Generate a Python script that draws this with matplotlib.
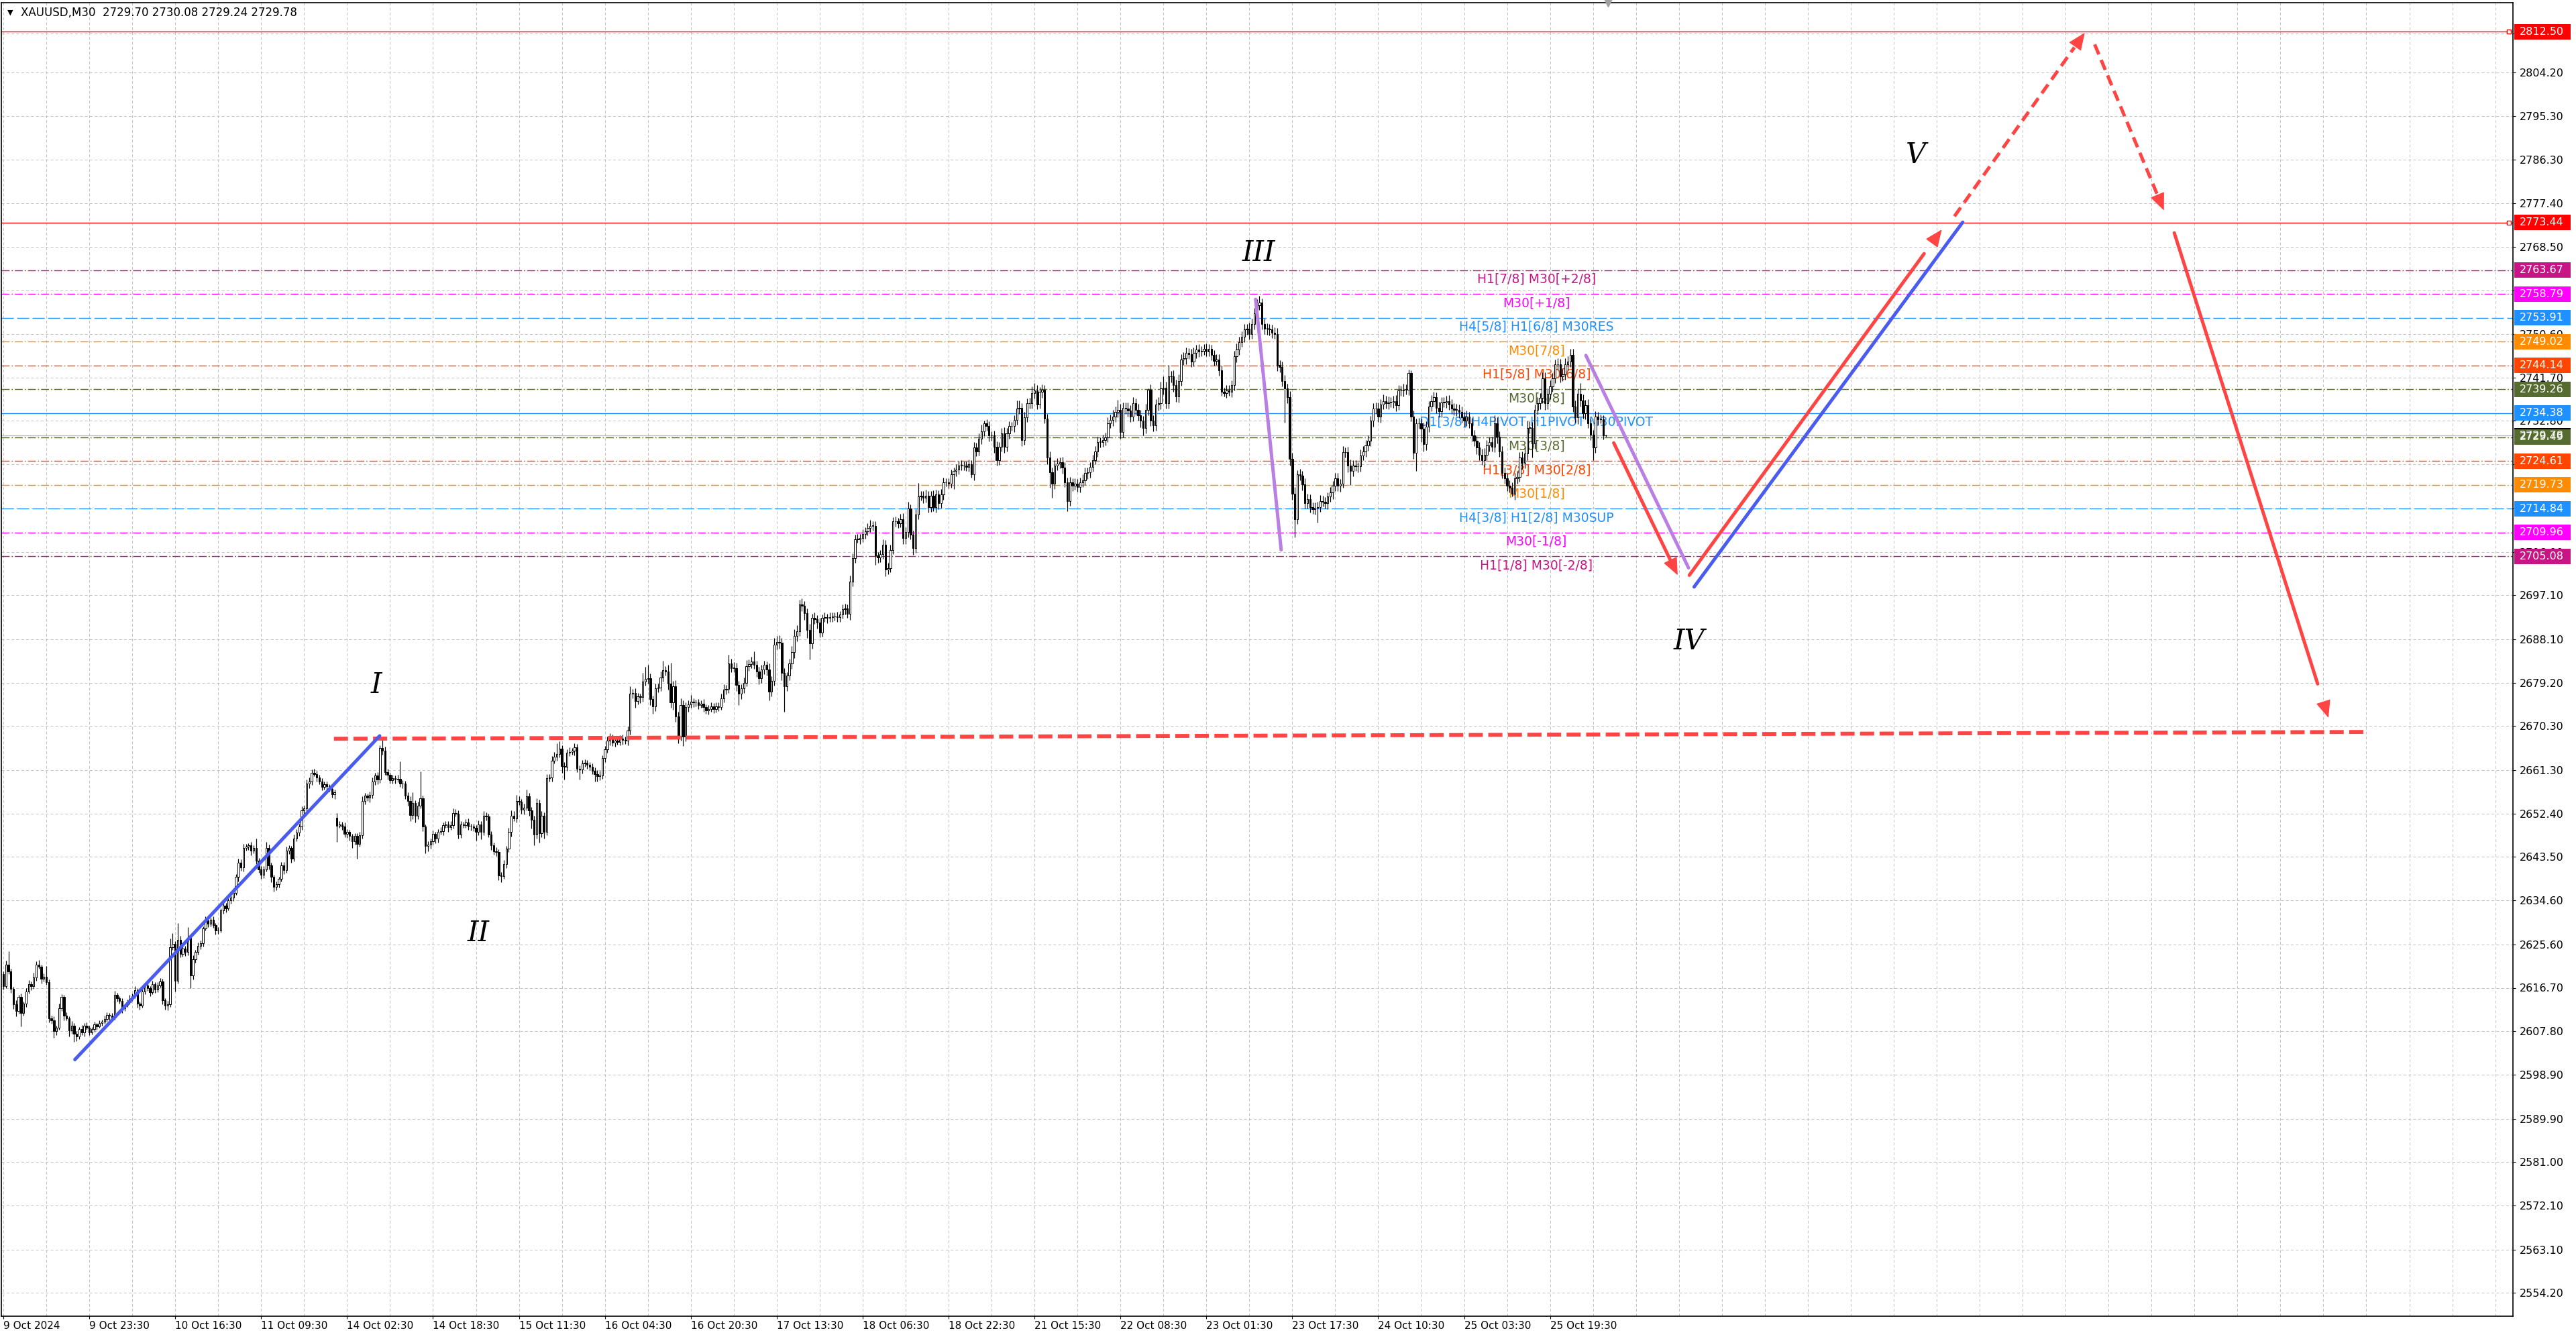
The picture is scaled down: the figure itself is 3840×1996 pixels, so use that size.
import matplotlib
matplotlib.use("Agg")
import matplotlib.pyplot as plt
import matplotlib.transforms as mtransforms
from matplotlib.collections import LineCollection
from matplotlib.patches import Rectangle
from matplotlib.ticker import MultipleLocator, FixedLocator
from matplotlib import font_manager as fm
import numpy as np

# ---------------- data ----------------
header = "XAUUSD,M30  2729.70 2730.08 2729.24 2729.78"

first_open = 2619.5
gap_opens = {132: 2651.5}

closes = [
 2617.0, 2621.5, 2620.0, 2616.5, 2613.3, 2612.0, 2614.8, 2611.5, 2613.5, 2616.0, 2617.5, 2617.0, 2618.8, 2621.5, 2621.0, 2618.5, 2619.0,
 2617.8, 2610.5, 2610.0, 2607.8, 2608.5, 2612.5, 2614.8, 2611.0, 2610.5, 2608.0, 2609.0, 2607.3, 2606.8, 2608.3, 2607.5, 2609.0, 2608.5,
 2607.6, 2608.2, 2609.2, 2608.8, 2609.5, 2609.8, 2610.3, 2611.2, 2611.0, 2610.6, 2615.2, 2614.6, 2614.0, 2612.5, 2613.2, 2613.8, 2614.5,
 2615.0, 2616.2, 2613.5, 2613.0, 2616.0, 2617.2, 2616.6, 2615.8, 2617.4, 2616.3, 2617.2, 2618.0, 2614.2, 2613.0, 2613.4, 2625.0, 2625.7,
 2618.2, 2626.5, 2623.6, 2624.8, 2624.0, 2627.0, 2619.2, 2622.5, 2624.0, 2625.3, 2625.8, 2628.8, 2630.5, 2629.8, 2630.6, 2629.6, 2628.4,
 2628.5, 2632.5, 2633.5, 2633.0, 2634.6, 2635.2, 2636.2, 2639.4, 2642.3, 2641.3, 2645.3, 2645.6, 2645.9, 2644.8, 2645.3, 2642.8, 2641.0,
 2639.8, 2641.0, 2645.4, 2641.8, 2639.5, 2637.4, 2637.9, 2639.0, 2641.8, 2640.8, 2644.8, 2645.3, 2643.2, 2647.2, 2648.5, 2649.7, 2653.1,
 2653.4, 2658.5, 2659.0, 2660.7, 2660.5, 2659.8, 2659.0, 2657.8, 2658.4, 2658.0, 2657.5, 2656.4, 2656.8, 2649.9, 2650.2, 2649.8, 2648.2,
 2648.6, 2647.8, 2646.7, 2647.8, 2646.2, 2648.0, 2655.0, 2656.0, 2655.6, 2656.2, 2659.0, 2660.2, 2659.4, 2665.8, 2665.2, 2660.9, 2660.3,
 2659.2, 2659.6, 2659.3, 2659.5, 2658.5, 2658.6, 2656.0, 2655.0, 2652.1, 2654.5, 2652.0, 2654.0, 2655.5, 2649.7, 2645.8, 2646.0, 2646.7,
 2648.2, 2647.2, 2648.6, 2648.8, 2650.0, 2650.2, 2649.6, 2650.0, 2652.5, 2652.4, 2648.1, 2650.2, 2650.0, 2650.6, 2649.8, 2649.7, 2649.4,
 2648.6, 2650.2, 2648.6, 2652.0, 2651.8, 2648.1, 2645.9, 2644.7, 2644.5, 2639.7, 2639.6, 2642.0, 2645.2, 2648.6, 2652.0, 2651.4, 2655.0,
 2654.8, 2653.2, 2653.6, 2655.9, 2653.1, 2651.1, 2648.1, 2654.5, 2648.4, 2652.0, 2648.6, 2659.6, 2659.8, 2663.2, 2664.0, 2664.6, 2665.7,
 2662.1, 2662.0, 2664.8, 2665.0, 2665.2, 2666.0, 2661.6, 2661.4, 2662.6, 2662.8, 2662.4, 2662.0, 2661.2, 2660.5, 2660.0, 2660.2, 2663.7,
 2665.5, 2667.3, 2668.0, 2666.9, 2667.3, 2667.1, 2667.8, 2667.4, 2667.3, 2669.4, 2676.9, 2677.1, 2675.5, 2676.4, 2676.2, 2679.4, 2679.9,
 2680.1, 2675.8, 2674.4, 2678.0, 2678.2, 2680.3, 2681.7, 2681.5, 2679.0, 2675.1, 2678.5, 2672.3, 2668.2, 2674.6, 2668.2, 2674.2, 2674.8,
 2675.3, 2675.1, 2675.1, 2674.6, 2674.9, 2674.2, 2673.5, 2673.8, 2674.4, 2673.8, 2674.4, 2674.2, 2676.0, 2677.8, 2677.9, 2683.1, 2682.2,
 2682.2, 2678.7, 2676.9, 2678.0, 2679.2, 2682.6, 2683.0, 2683.5, 2682.8, 2681.5, 2680.1, 2681.9, 2682.8, 2681.9, 2677.4, 2679.5, 2687.0,
 2687.5, 2687.4, 2681.2, 2678.5, 2680.6, 2683.1, 2685.5, 2688.8, 2689.7, 2695.2, 2695.0, 2693.4, 2690.0, 2687.2, 2692.4, 2692.2, 2691.5,
 2689.5, 2692.4, 2692.6, 2692.4, 2692.6, 2692.7, 2692.8, 2692.6, 2693.1, 2694.2, 2694.4, 2693.3, 2699.9, 2704.7, 2708.6, 2708.6, 2708.8,
 2709.7, 2710.2, 2710.9, 2711.3, 2711.3, 2705.2, 2704.9, 2705.5, 2707.5, 2702.4, 2702.7, 2706.3, 2712.2, 2712.2, 2711.8, 2712.7, 2708.8,
 2710.0, 2714.8, 2709.5, 2706.8, 2713.6, 2717.3, 2717.5, 2717.0, 2717.5, 2715.2, 2717.5, 2715.2, 2717.7, 2715.9, 2717.7, 2720.2, 2720.2,
 2720.0, 2721.8, 2722.5, 2722.8, 2723.7, 2723.7, 2723.6, 2723.4, 2723.9, 2721.8, 2727.3, 2726.6, 2729.1, 2730.7, 2732.3, 2731.7, 2729.8,
 2729.8, 2727.5, 2724.8, 2727.5, 2730.3, 2727.5, 2730.3, 2731.7, 2731.7, 2733.0, 2735.3, 2735.5, 2728.9, 2733.5, 2736.4, 2736.4, 2738.5,
 2739.0, 2736.2, 2738.7, 2739.2, 2733.3, 2725.3, 2722.3, 2720.0, 2723.7, 2724.0, 2724.4, 2723.2, 2720.2, 2716.4, 2720.2, 2719.6, 2720.0,
 2719.3, 2720.2, 2720.7, 2722.1, 2722.3, 2723.4, 2724.8, 2726.5, 2728.5, 2728.5, 2728.9, 2729.4, 2732.3, 2733.0, 2733.7, 2734.6, 2735.1,
 2730.5, 2735.5, 2735.3, 2734.9, 2733.7, 2736.4, 2735.1, 2734.0, 2732.8, 2731.4, 2735.1, 2739.2, 2732.8, 2731.9, 2736.2, 2736.4, 2739.4,
 2739.6, 2736.4, 2741.9, 2741.9, 2740.1, 2737.8, 2741.0, 2745.4, 2745.6, 2746.7, 2746.5, 2744.9, 2746.7, 2747.4, 2747.0, 2747.2, 2747.5,
 2747.0, 2747.5, 2746.3, 2745.1, 2745.3, 2743.1, 2738.7, 2738.5, 2739.0, 2738.8, 2740.1, 2746.0, 2747.4, 2749.0, 2750.1, 2751.5, 2751.7,
 2750.6, 2752.7, 2754.9, 2756.5, 2757.1, 2752.7, 2751.7, 2751.7, 2751.5, 2750.8, 2750.6, 2744.2, 2743.8, 2741.0, 2739.4, 2737.6, 2725.0,
 2717.9, 2712.7, 2721.8, 2721.6, 2719.8, 2715.9, 2716.8, 2715.2, 2714.7, 2715.0, 2715.2, 2716.4, 2716.2, 2715.9, 2717.3, 2718.2, 2719.5,
 2721.1, 2719.5, 2720.0, 2726.4, 2726.4, 2723.7, 2722.5, 2723.7, 2723.5, 2723.5, 2725.7, 2726.6, 2727.8, 2728.7, 2732.8, 2735.3, 2735.3,
 2733.7, 2736.2, 2736.9, 2736.4, 2736.6, 2736.6, 2736.9, 2736.0, 2739.0, 2739.0, 2739.2, 2739.2, 2742.6, 2733.7, 2726.2, 2732.3, 2732.3,
 2731.2, 2728.0, 2731.6, 2735.8, 2736.9, 2737.6, 2735.5, 2734.8, 2736.6, 2736.6, 2736.9, 2736.2, 2735.3, 2735.1, 2735.1, 2734.6, 2733.5,
 2732.8, 2733.7, 2732.3, 2729.8, 2728.7, 2727.3, 2725.9, 2724.8, 2725.9, 2727.8, 2728.4, 2727.5, 2732.3, 2729.5, 2726.6, 2722.1, 2721.0,
 2719.5, 2719.1, 2717.9, 2721.1, 2721.3, 2725.3, 2724.2, 2726.1, 2731.4, 2731.4, 2728.2, 2735.1, 2736.4, 2737.5, 2741.5, 2736.4, 2738.3,
 2739.9, 2741.5, 2744.4, 2744.4, 2741.9, 2742.4, 2744.4, 2744.9, 2746.3, 2735.8, 2733.5, 2738.3, 2737.0, 2734.4, 2736.0, 2732.3, 2730.0,
 2727.3, 2733.7, 2733.2, 2733.2, 2729.8, 2729.78,
]

# upper / lower wick beyond the body, in tenths of a dollar
hi_ext = [
 5, 8, 27, 6, 4, 9, 5, 7, 4, 6, 8, 5, 10, 6, 9, 4, 6,
 22, 6, 5, 8, 4, 10, 6, 5, 7, 4, 9, 5, 6, 4, 8, 5, 6,
 5, 4, 6, 3, 5, 4, 7, 5, 4, 6, 9, 5, 4, 6, 3, 5, 7,
 6, 8, 5, 4, 7, 5, 6, 4, 8, 5, 6, 7, 5, 4, 6, 18, 22,
 5, 34, 8, 6, 5, 22, 6, 9, 5, 7, 6, 5, 8, 6, 5, 7, 4,
 6, 5, 8, 6, 7, 5, 9, 6, 8, 7, 9, 6, 4, 7, 6, 19, 5,
 6, 7, 12, 6, 5, 4, 6, 5, 7, 6, 8, 6, 5, 9, 7, 6, 8,
 6, 9, 8, 7, 9, 6, 5, 7, 6, 5, 4, 6, 5, 10, 6, 5, 7,
 6, 5, 4, 6, 5, 7, 9, 6, 5, 7, 8, 6, 7, 6, 16, 9, 6,
 5, 7, 6, 8, 35, 6, 5, 7, 9, 22, 6, 8, 55, 6, 5, 7, 6,
 7, 5, 6, 8, 5, 7, 6, 9, 10, 8, 6, 7, 5, 6, 8, 5, 6,
 6, 8, 7, 9, 6, 5, 7, 6, 8, 6, 7, 9, 6, 8, 10, 9, 12,
 9, 6, 8, 14, 7, 6, 8, 10, 7, 9, 6, 8, 7, 9, 10, 22, 15,
 6, 8, 7, 9, 6, 8, 7, 6, 8, 7, 6, 5, 7, 6, 8, 9, 6,
 7, 9, 8, 6, 7, 9, 6, 8, 7, 8, 15, 8, 9, 7, 6, 18, 25,
 28, 9, 7, 10, 8, 12, 20, 9, 14, 43, 10, 12, 9, 14, 10, 9, 8,
 14, 7, 6, 8, 7, 9, 6, 8, 7, 6, 8, 7, 9, 10, 8, 18, 10,
 12, 10, 9, 8, 10, 12, 9, 10, 21, 9, 10, 10, 9, 8, 12, 10, 14,
 12, 14, 10, 9, 8, 10, 12, 14, 13, 10, 12, 9, 10, 12, 9, 11, 8,
 9, 8, 10, 7, 9, 8, 7, 9, 8, 10, 9, 8, 12, 10, 9, 11, 8,
 9, 8, 10, 12, 9, 10, 8, 9, 11, 9, 10, 12, 9, 10, 8, 11, 12,
 10, 14, 9, 8, 11, 28, 10, 9, 12, 10, 9, 11, 10, 9, 11, 10, 9,
 9, 10, 8, 11, 9, 10, 8, 9, 10, 9, 11, 10, 12, 14, 6, 9, 10,
 9, 10, 11, 9, 10, 12, 11, 10, 9, 10, 17, 15, 9, 12, 10, 11, 14,
 16, 12, 10, 11, 9, 10, 12, 9, 10, 11, 9, 10, 12, 10, 11, 9, 10,
 9, 10, 11, 12, 10, 9, 11, 12, 10, 9, 11, 10, 12, 11, 13, 12, 20,
 12, 11, 10, 12, 11, 13, 10, 12, 11, 10, 12, 2, 11, 12, 10, 13, 14,
 23, 12, 23, 11, 13, 12, 14, 11, 13, 12, 10, 11, 12, 10, 11, 9, 10,
 11, 10, 9, 10, 12, 11, 10, 9, 11, 12, 10, 11, 12, 10, 11, 12, 10,
 12, 11, 10, 12, 13, 8, 10, 11, 9, 10, 11, 12, 10, 11, 12, 10, 13,
 12, 14, 9, 11, 10, 12, 11, 10, 9, 11, 10, 12, 11, 10, 9, 11, 10,
 10, 11, 9, 12, 10, 11, 12, 10, 11, 9, 12, 10, 11, 12, 10, 11, 12,
 12, 11, 13, 10, 12, 11, 10, 12, 11, 10, 12, 11, 7, 6, 12, 10, 11,
 10, 12, 11, 10, 12, 11, 10, 12, 11, 10, 11, 12, 10, 11, 12, 10, 11,
 11, 12, 10, 11, 12, 10, 11, 12, 13, 11, 10, 12, 16, 12, 11, 10, 12,
 10, 12, 11, 10, 12, 11, 13, 12, 14, 13, 12, 11, 12, 10, 13, 12, 11,
 12, 11, 10, 12, 11, 10, 12, 11, 13, 13, 12, 11, 22, 12, 11, 12, 10,
 10, 11, 10, 9, 8, 2,
]
lo_ext = [
 6, 4, 5, 8, 9, 12, 6, 27, 5, 7, 4, 8, 5, 7, 4, 9, 5,
 5, 9, 7, 14, 8, 4, 6, 9, 5, 12, 7, 16, 10, 6, 5, 7, 4,
 6, 4, 5, 7, 3, 5, 4, 6, 18, 5, 4, 7, 5, 9, 6, 4, 5,
 5, 4, 9, 7, 4, 6, 5, 8, 4, 6, 5, 4, 8, 7, 9, 6, 5,
 23, 6, 7, 5, 8, 6, 25, 8, 6, 5, 7, 6, 4, 7, 5, 6, 8,
 7, 5, 6, 8, 5, 6, 7, 5, 9, 6, 8, 5, 7, 9, 6, 8, 7,
 8, 6, 5, 9, 12, 10, 7, 6, 5, 8, 6, 7, 9, 6, 5, 7, 6,
 8, 6, 9, 7, 5, 8, 6, 7, 5, 9, 6, 8, 10, 33, 5, 7, 6,
 8, 9, 13, 7, 30, 6, 8, 7, 6, 9, 7, 8, 10, 7, 8, 6, 9,
 7, 6, 8, 5, 7, 9, 6, 10, 12, 8, 14, 7, 6, 9, 15, 12, 8,
 6, 9, 7, 5, 8, 6, 9, 5, 7, 6, 8, 7, 6, 5, 7, 8, 6,
 18, 6, 15, 7, 8, 6, 9, 7, 8, 10, 13, 6, 8, 7, 9, 6, 8,
 7, 9, 10, 6, 12, 18, 22, 9, 20, 8, 14, 6, 7, 9, 6, 8, 7,
 14, 27, 8, 7, 6, 9, 7, 21, 8, 6, 9, 7, 8, 15, 10, 8, 7,
 8, 6, 9, 7, 8, 6, 7, 9, 6, 10, 8, 9, 14, 8, 12, 9, 8,
 9, 12, 16, 10, 8, 7, 9, 8, 12, 10, 15, 11, 14, 9, 20, 10, 9,
 8, 9, 7, 8, 6, 9, 7, 8, 6, 9, 7, 8, 6, 9, 10, 8, 9,
 9, 12, 23, 10, 9, 8, 10, 9, 8, 11, 12, 9, 10, 13, 18, 10, 9,
 10, 12, 15, 52, 10, 9, 11, 13, 12, 10, 12, 14, 16, 32, 10, 9, 12,
 10, 9, 8, 10, 7, 9, 8, 10, 9, 8, 10, 9, 12, 10, 9, 8, 10,
 8, 10, 9, 8, 10, 19, 12, 10, 9, 14, 10, 9, 8, 10, 9, 8, 12,
 12, 10, 9, 14, 10, 9, 8, 11, 9, 12, 10, 9, 11, 12, 9, 10, 8,
 10, 9, 29, 11, 9, 10, 9, 8, 10, 6, 12, 10, 9, 11, 10, 9, 12,
 10, 12, 11, 10, 9, 12, 10, 11, 9, 12, 10, 11, 12, 10, 9, 11, 10,
 11, 10, 9, 12, 10, 14, 32, 30, 11, 10, 9, 12, 10, 21, 10, 11, 9,
 10, 11, 9, 10, 12, 11, 10, 9, 11, 12, 10, 11, 9, 10, 12, 11, 10,
 14, 11, 10, 12, 11, 10, 12, 11, 13, 15, 12, 11, 10, 12, 11, 13, 12,
 12, 11, 10, 12, 13, 11, 12, 10, 11, 12, 10, 11, 9, 10, 11, 10, 9,
 10, 9, 11, 10, 9, 11, 8, 7, 10, 9, 11, 10, 12, 11, 10, 12, 11,
 11, 10, 12, 11, 10, 12, 11, 13, 12, 11, 10, 12, 11, 12, 70, 12, 14,
 12, 37, 10, 9, 12, 11, 10, 12, 9, 11, 30, 10, 9, 11, 12, 10, 14,
 11, 10, 12, 9, 11, 14, 28, 11, 10, 12, 11, 10, 12, 11, 10, 12, 11,
 11, 12, 10, 11, 12, 10, 11, 12, 10, 11, 12, 10, 11, 10, 12, 37, 11,
 28, 14, 12, 11, 10, 12, 11, 13, 12, 10, 11, 12, 10, 11, 13, 12, 11,
 12, 11, 10, 12, 11, 13, 12, 10, 14, 11, 12, 10, 11, 13, 12, 11, 10,
 11, 10, 6, 12, 11, 10, 12, 11, 13, 12, 29, 11, 10, 12, 11, 13, 12,
 11, 12, 10, 11, 12, 10, 11, 12, 10, 12, 11, 13, 12, 11, 12, 10, 11,
 25, 10, 11, 9, 8, 2,
]

time_labels = ["9 Oct 2024", "9 Oct 23:30", "10 Oct 16:30", "11 Oct 09:30", "14 Oct 02:30",
               "14 Oct 18:30", "15 Oct 11:30", "16 Oct 04:30", "16 Oct 20:30", "17 Oct 13:30",
               "18 Oct 06:30", "18 Oct 22:30", "21 Oct 15:30", "22 Oct 08:30", "23 Oct 01:30",
               "23 Oct 17:30", "24 Oct 10:30", "25 Oct 03:30", "25 Oct 19:30"]
time_label_bars = [0, 34, 68, 102, 136, 170, 204, 238, 272, 306, 340, 374, 408, 442, 476,
                   510, 544, 578, 612]
grid_bar_step = 17

price_ticks = [2812.10, 2804.20, 2795.30, 2786.30, 2777.40, 2768.50, 2759.50, 2750.60, 2741.70,
               2732.80, 2723.90, 2714.90, 2706.00, 2697.10, 2688.10, 2679.20, 2670.30, 2661.30,
               2652.40, 2643.50, 2634.60, 2625.60, 2616.70, 2607.80, 2598.90, 2589.90, 2581.00,
               2572.10, 2563.10, 2554.20]

level_prices = [2763.67, 2758.79, 2753.91, 2749.02, 2744.14, 2739.26, 2734.38, 2729.49,
                2724.61, 2719.73, 2714.84, 2709.96, 2705.08]
level_texts = ["H1[7/8] M30[+2/8]", "M30[+1/8]", "H4[5/8] H1[6/8] M30RES", "M30[7/8]",
               "H1[5/8] M30[6/8]", "M30[5/8]", "D1[3/8] H4PIVOT H1PIVOT M30PIVOT", "M30[3/8]",
               "H1[3/8] M30[2/8]", "M30[1/8]", "H4[3/8] H1[2/8] M30SUP", "M30[-1/8]",
               "H1[1/8] M30[-2/8]"]
level_colors = ["#C71585", "#FF00FF", "#1E90FF", "#FF8C00", "#FF4500", "#556B2F", "#1E90FF",
                "#556B2F", "#FF4500", "#FF8C00", "#1E90FF", "#FF00FF", "#C71585"]
level_styles = ["dashdot", "dashdot", "dashed", "dashdot", "dashdot", "dashdot", "solid",
                "dashdot", "dashdot", "dashdot", "dashed", "dashdot", "dashdot"]
level_text_bar = 606.6

red_levels = [2812.50, 2773.44]
current_price = 2729.78

# hand drawn objects: (bar, price) end points
blue_impulse = [(28.3, 2602.0), (148.9, 2668.3)]
support_line = [(130.8, 2667.7), (934.0, 2669.1)]
purple_one = [(495.5, 2757.7), (505.6, 2706.4)]
purple_two = [(626.2, 2746.2), (666.8, 2702.7)]
blue_up = [(669.0, 2698.8), (775.3, 2773.5)]
red_solid_arrows = [[(637.2, 2728.3), (662.5, 2701.2)],
                    [(667.1, 2701.2), (767.0, 2772.0)],
                    [(859.0, 2771.3), (920.0, 2672.0)]]
red_dashed_arrows = [[(772.0, 2774.7), (823.6, 2812.3)],
                     [(827.5, 2809.9), (854.9, 2775.9)]]
wave_labels = [("I", 147.6, 2678.7), ("II", 187.9, 2627.9), ("III", 496.7, 2767.2),
               ("IV", 667.1, 2687.7), ("V", 756.6, 2787.2)]

# ---------------- fonts ----------------
def font_ok(name):
    try:
        fm.findfont(fm.FontProperties(family=name), fallback_to_default=False)
        return True
    except Exception:
        return False

if font_ok("Liberation Sans Narrow"):
    UI = "Liberation Sans Narrow"
    ui_size, xl_size, hd_size = 17, 17, 17
else:
    UI = "DejaVu Sans"
    ui_size, xl_size, hd_size = 11.5, 11, 12

RED = "#FF4444"
BLUE = "#4A5CF0"
PURPLE = "#B97FE3"

# ---------------- figure ----------------
W, H = 3840, 1996
fig = plt.figure(figsize=(W / 100, H / 100), dpi=100)
fig.patch.set_facecolor("white")
ax = fig.add_axes([2 / W, 34 / H, 3744 / W, 1958 / H])
ax.set_facecolor("white")
ax.set_xlim(-0.8, 993)
ax.set_ylim(2549.45, 2818.45)

for s in ax.spines.values():
    s.set_color("black")
    s.set_linewidth(1.2)

# grid
ax.xaxis.set_minor_locator(MultipleLocator(grid_bar_step))
ax.xaxis.set_major_locator(FixedLocator(time_label_bars))
ax.set_xticklabels(time_labels, ha="left", fontsize=xl_size, family=UI)
ax.grid(which="minor", axis="x", color="#C4C4C4", lw=0.75, ls=(0, (4, 3)), zorder=0.5)
ax.grid(which="major", axis="x", color="#C4C4C4", lw=0.75, ls=(0, (4, 3)), zorder=0.5)
ax.yaxis.tick_right()
ax.set_yticks(price_ticks)
ax.set_yticklabels(["%.2f" % v for v in price_ticks], fontsize=ui_size, family=UI)
ax.grid(which="major", axis="y", color="#C4C4C4", lw=0.75, ls=(0, (4, 3)), zorder=0.5)
ax.set_axisbelow(True)
ax.tick_params(axis="x", which="major", direction="out", length=3, width=0.8, pad=2)
ax.tick_params(axis="x", which="minor", length=0)
ax.tick_params(axis="y", direction="out", length=3, width=0.8, pad=4)

# level lines
dash_map = {"dashdot": (0, (8.5, 2.2, 1.2, 2.2)), "dashed": (0, (13, 3.6)), "solid": "-"}
tdata = ax.transData
text_off = mtransforms.offset_copy(tdata, fig=fig, x=0, y=-4, units="dots")
for p, t, c, st in zip(level_prices, level_texts, level_colors, level_styles):
    ax.axhline(p, color=c, lw=1.0, ls=dash_map[st], zorder=1.5)
    ax.text(level_text_bar, p, t, color=c, fontsize=13.5, family="DejaVu Sans",
            ha="center", va="top", transform=text_off, zorder=2)

ax.axhline(current_price, color="#BEBEBE", lw=1.0, zorder=1.6)

bl = mtransforms.blended_transform_factory(ax.transAxes, ax.transData)
for p in red_levels:
    ax.axhline(p, color="#FF0000", lw=1.0, zorder=1.7)
    ax.plot([0.9985], [p], transform=bl, marker="s", ms=4, mfc="white", mec="#FF0000",
            mew=1, clip_on=False, zorder=5)

# ---------------- candles ----------------
n = min(len(closes), len(hi_ext), len(lo_ext))
x = np.arange(n)
c = np.array(closes[:n], dtype=float)
o = np.empty(n)
o[0] = first_open
o[1:] = c[:-1]
for k, v in gap_opens.items():
    if k < n:
        o[k] = v
top = np.maximum(o, c)
bot = np.minimum(o, c)
hi = top + np.array(hi_ext[:n]) / 10.0
lo = bot - np.array(lo_ext[:n]) / 10.0

segs = [[(xi, l), (xi, h)] for xi, l, h in zip(x, lo, hi)]
ax.add_collection(LineCollection(segs, colors="black", linewidths=0.85, zorder=2.9))
face = np.where(c >= o, "white", "black")
ax.bar(x, np.maximum(top - bot, 0.06), bottom=bot, width=0.62, color=face,
       edgecolor="black", linewidth=0.7, zorder=3)

# ---------------- drawings ----------------
def seg(pts, **kw):
    xs, ys = zip(*pts)
    ax.plot(xs, ys, **kw)

seg(support_line, color=RED, lw=4.2, ls=(0, (3.6, 1.4)), dash_capstyle="butt", zorder=4)
seg(blue_impulse, color=BLUE, lw=3.6, solid_capstyle="round", zorder=4)
seg(purple_one, color=PURPLE, lw=3.6, solid_capstyle="round", zorder=4)
seg(purple_two, color=PURPLE, lw=3.6, solid_capstyle="round", zorder=4)
seg(blue_up, color=BLUE, lw=3.6, solid_capstyle="round", zorder=4)

def head(p0, p1):
    f = 0.985
    near = (p0[0] + (p1[0] - p0[0]) * f, p0[1] + (p1[1] - p0[1]) * f)
    ax.annotate("", xy=p1, xytext=near,
                arrowprops=dict(arrowstyle="-|>,head_length=0.75,head_width=0.32",
                                color=RED, lw=1, shrinkA=0, shrinkB=0, mutation_scale=22),
                zorder=5)

for pts in red_solid_arrows:
    p0, p1 = pts
    f = 0.93
    cut = (p0[0] + (p1[0] - p0[0]) * f, p0[1] + (p1[1] - p0[1]) * f)
    seg([p0, cut], color=RED, lw=3.6, solid_capstyle="round", zorder=4)
    head(p0, p1)

for pts in red_dashed_arrows:
    p0, p1 = pts
    f = 0.92
    cut = (p0[0] + (p1[0] - p0[0]) * f, p0[1] + (p1[1] - p0[1]) * f)
    seg([p0, cut], color=RED, lw=3.6, ls=(0, (3.2, 1.8)), dash_capstyle="butt", zorder=4)
    head(p0, p1)

for t, bx, py in wave_labels:
    ax.text(bx, py, t, fontsize=30, family="DejaVu Serif", style="italic",
            ha="center", va="center", color="black", zorder=5)

# chart shift marker
ax.plot([n], [1.0], transform=mtransforms.blended_transform_factory(ax.transData, ax.transAxes),
        marker="v", ms=9, color="#A0A0A0", clip_on=False, zorder=6)

# ---------------- price boxes on the right ----------------
box_w = 84 / 3744
box_h = 23 / (1958 / (2818.45 - 2549.45))
box_x0 = 1.0005

def price_box(p, color):
    ax.add_patch(Rectangle((box_x0, p - box_h / 2), box_w, box_h, transform=bl,
                           facecolor=color, edgecolor="none", clip_on=False, zorder=6))
    ax.text(box_x0 + 8 / 3744, p, "%.2f" % p, transform=bl, color="white",
            fontsize=ui_size, family=UI, ha="left", va="center", clip_on=False, zorder=7)

for p in red_levels:
    price_box(p, "#FF0000")
price_box(current_price, "black")
for p, col in zip(level_prices, level_colors):
    price_box(p, col)

# ---------------- header ----------------
fig.text(11 / W, 1 - 19 / H, "\u25BC", fontsize=8, family="DejaVu Sans", va="center", ha="left")
fig.text(31 / W, 1 - 19 / H, header, fontsize=hd_size, family=UI, va="center", ha="left")

fig.savefig("out.png", dpi=100, facecolor="white")
